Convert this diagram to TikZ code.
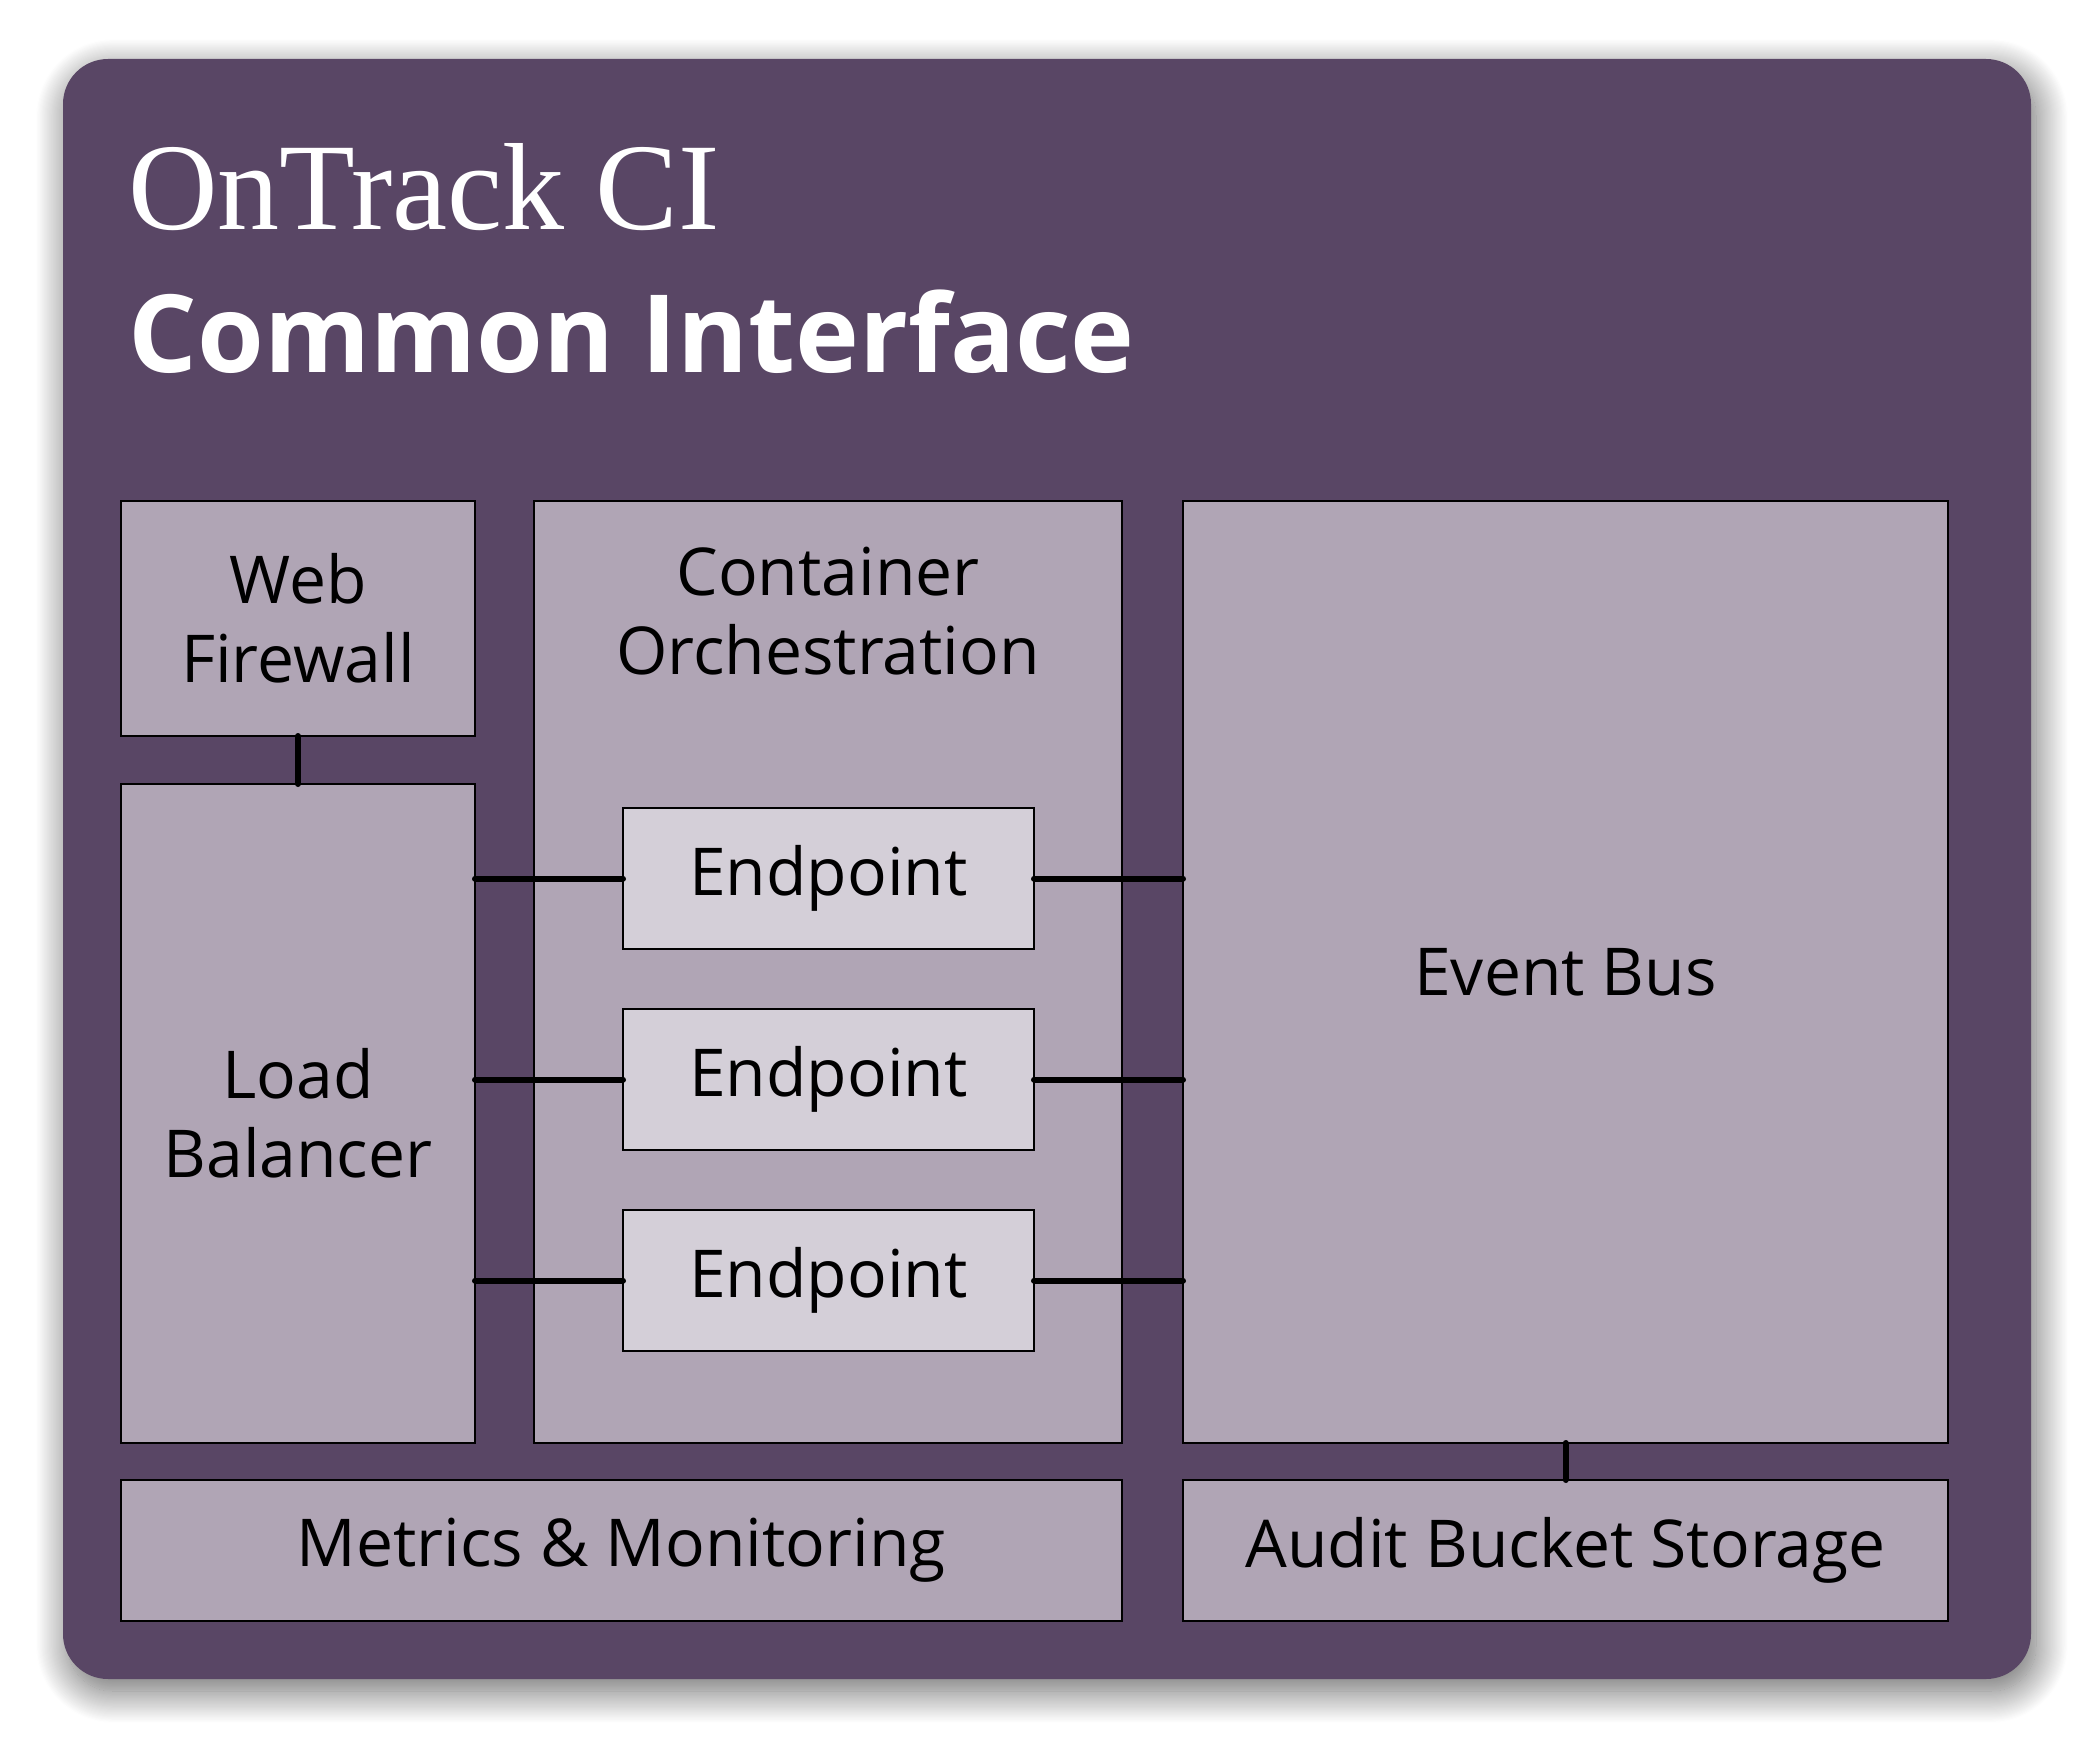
\documentclass[tikz,border=0pt]{standalone}
\usepackage{fontspec}
\setmainfont{Open Sans}
\newfontfamily\brandserif{Liberation Serif}
\usetikzlibrary{positioning,shadows.blur}
\definecolor{cFrame}{HTML}{594665}
\definecolor{cBox}{HTML}{B0A5B5}
\definecolor{cEnd}{HTML}{D4CFD8}
\tikzset{
  frame/.style ={fill=cFrame, rounded corners=22.5pt,
                 blur shadow={shadow xshift=2.5pt, shadow yshift=-6pt,
                              shadow blur radius=16pt, shadow blur steps=30,
                              shadow opacity=60}},
  lbl/.style   ={align=center, inner sep=0pt, outer sep=0pt,
                 font=\fontsize{33}{39.5}\selectfont},
  box/.style   ={lbl, draw=black, fill=cBox, line width=1pt},
  ep/.style    ={box, fill=cEnd, minimum width=205.5pt, minimum height=70.5pt},
  ttl/.style   ={text=white, anchor=base west, inner sep=0pt},
  link/.style  ={line width=3pt, line cap=round},
}

\begin{document}
\begin{tikzpicture}[x=0.5pt, y=-0.5pt, node distance=30pt]
\useasboundingbox (0,0) rectangle (2095,1739);
\path[frame] (63,59) rectangle (2031,1679);

\node[ttl, font=\brandserif\fontsize{62}{62}\selectfont] (brand) at (128,230) {OnTrack CI};
\node[ttl, font=\bfseries\fontsize{54}{54}\selectfont] (title) at (128,372) {Common Interface};

\node[box, minimum width=177pt, minimum height=117.5pt] (wf) at (298,618.5) {Web\\ Firewall};
\node[box, minimum width=177pt, minimum height=329.5pt] (lb) at (298,1113.5) {Load\\ Balancer};
\node[box, minimum width=294pt, minimum height=471pt] (co) at (828,972) {};
\node[lbl, below=23pt of co.north] (colbl) {Container\\ Orchestration};
\node[ep] (ep1) at (828.5,878.5) {Endpoint};
\node[ep, below=of ep1] (ep2) {Endpoint};
\node[ep, below=of ep2] (ep3) {Endpoint};
\node[box, minimum width=382.5pt, minimum height=471pt] (eb) at (1565.5,972) {Event Bus};

\node[box, minimum width=500.5pt, minimum height=70.5pt] (mm) at (621.5,1550.5) {Metrics \& Monitoring};
\node[box, minimum width=382.5pt, minimum height=70.5pt] (ab) at (1565.5,1550.5) {Audit Bucket Storage};

\draw[link] (wf) -- (lb);
\draw[link] (eb) -- (ab);
\foreach \e in {ep1,ep2,ep3}{
  \draw[link] (\e.west) -- (\e.west -| lb.east);
  \draw[link] (\e.east) -- (\e.east -| eb.west);
}
\end{tikzpicture}
\end{document}
